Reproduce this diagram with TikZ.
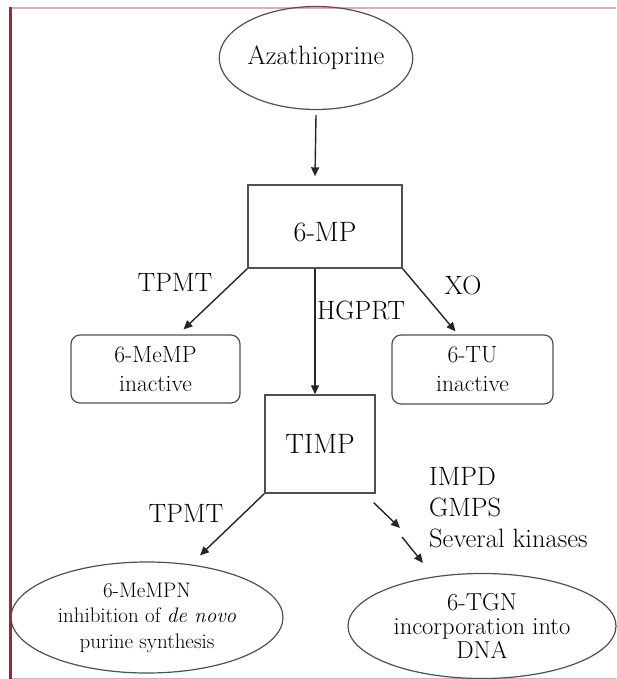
\documentclass[tikz,border=0pt]{standalone}
\usetikzlibrary{shapes.geometric,arrows.meta}
\definecolor{framered}{RGB}{150,40,60}
\definecolor{framepink}{RGB}{228,170,180}
\definecolor{linegray}{RGB}{80,80,80}
\tikzset{
  drug/.style={ellipse,draw=linegray,line width=1.2pt,inner sep=0pt,align=center},
  stepbox/.style={rectangle,draw=linegray,line width=1.4pt,inner sep=0pt,font=\fontsize{28}{30}\selectfont},
  metab/.style={rectangle,rounded corners=9pt,draw=linegray,line width=1.2pt,inner sep=0pt,align=center,font=\fontsize{23.5}{29}\selectfont},
  enz/.style={inner sep=0pt,font=\fontsize{26.5}{31}\selectfont},
  arr/.style={draw=black!85,line width=1.4pt,-{Triangle[length=9pt,width=8pt]}}
}
\begin{document}
\begin{tikzpicture}[x=1pt,y=-1pt]
  \useasboundingbox (0,0) rectangle (616,679);
  % frame
  \draw[framepink,line width=2pt] (10,8) -- (616,8);
  \draw[framepink,line width=1pt] (10,678) -- (616,678);
  \draw[framered,line width=3pt] (10,7) -- (10,679);

  % drugs and metabolites
  \node[drug,minimum width=188pt,minimum height=103pt,font=\fontsize{26.5}{28}\selectfont] (aza) at (316,58) {Azathioprine};
  \node[stepbox,minimum width=154pt,minimum height=83pt] (mp) at (325,226.5) {\rule{0pt}{30pt}6-MP};
  \node[metab,minimum width=169pt,minimum height=68pt] (memp) at (155.5,369) {6-MeMP\\inactive};
  \node[metab,minimum width=161pt,minimum height=69pt] (tu) at (472.5,369.5) {6-TU\\inactive};
  \node[stepbox,minimum width=110pt,minimum height=98pt] (timp) at (320,444) {TIMP};
  \node[drug,minimum width=272pt,minimum height=111pt,font=\fontsize{21}{25.5}\selectfont] (mepn) at (147,617.5)
    {6-MeMPN\\inhibition of \textit{de novo}\\purine synthesis};
  \node[drug,minimum width=268pt,minimum height=105pt,font=\fontsize{24.5}{24}\selectfont] (tgn) at (482,626)
    {6-TGN\\incorporation into\\DNA};

  % enzymes
  \node[enz] (tpmtA) at (175,282) {TPMT};
  \node[enz] (hgprt) at (361,310) {HGPRT};
  \node[enz] (xo) at (463,285) {XO};
  \node[enz] (tpmtB) at (186,513) {TPMT};
  \node[enz,align=left,anchor=west] (kin) at (429,508) {IMPD\\GMPS\\Several kinases};

  % arrows
  \coordinate (brkA) at (400,528);
  \coordinate (brkB) at (402,537);
  \draw[arr] ([yshift=-5pt]aza.south) -- ([xshift=-10pt,yshift=8pt]mp.north);
  \draw[arr] (mp.south west) -- ([xshift=28pt,yshift=5pt]memp.north);
  \draw[arr] ([xshift=-10pt]mp.south) -- ([xshift=-5pt]timp.north);
  \draw[arr] (mp.south east) -- ([xshift=-17pt,yshift=3pt]tu.north);
  \draw[arr] (timp.south west) -- ([xshift=53pt,yshift=6pt]mepn.north);
  \draw[arr] ([xshift=-2pt,yshift=-9pt]timp.south east) -- (brkA);
  \draw[arr] (brkB) -- ([xshift=-59pt,yshift=10pt]tgn.north);
\end{tikzpicture}
\end{document}
